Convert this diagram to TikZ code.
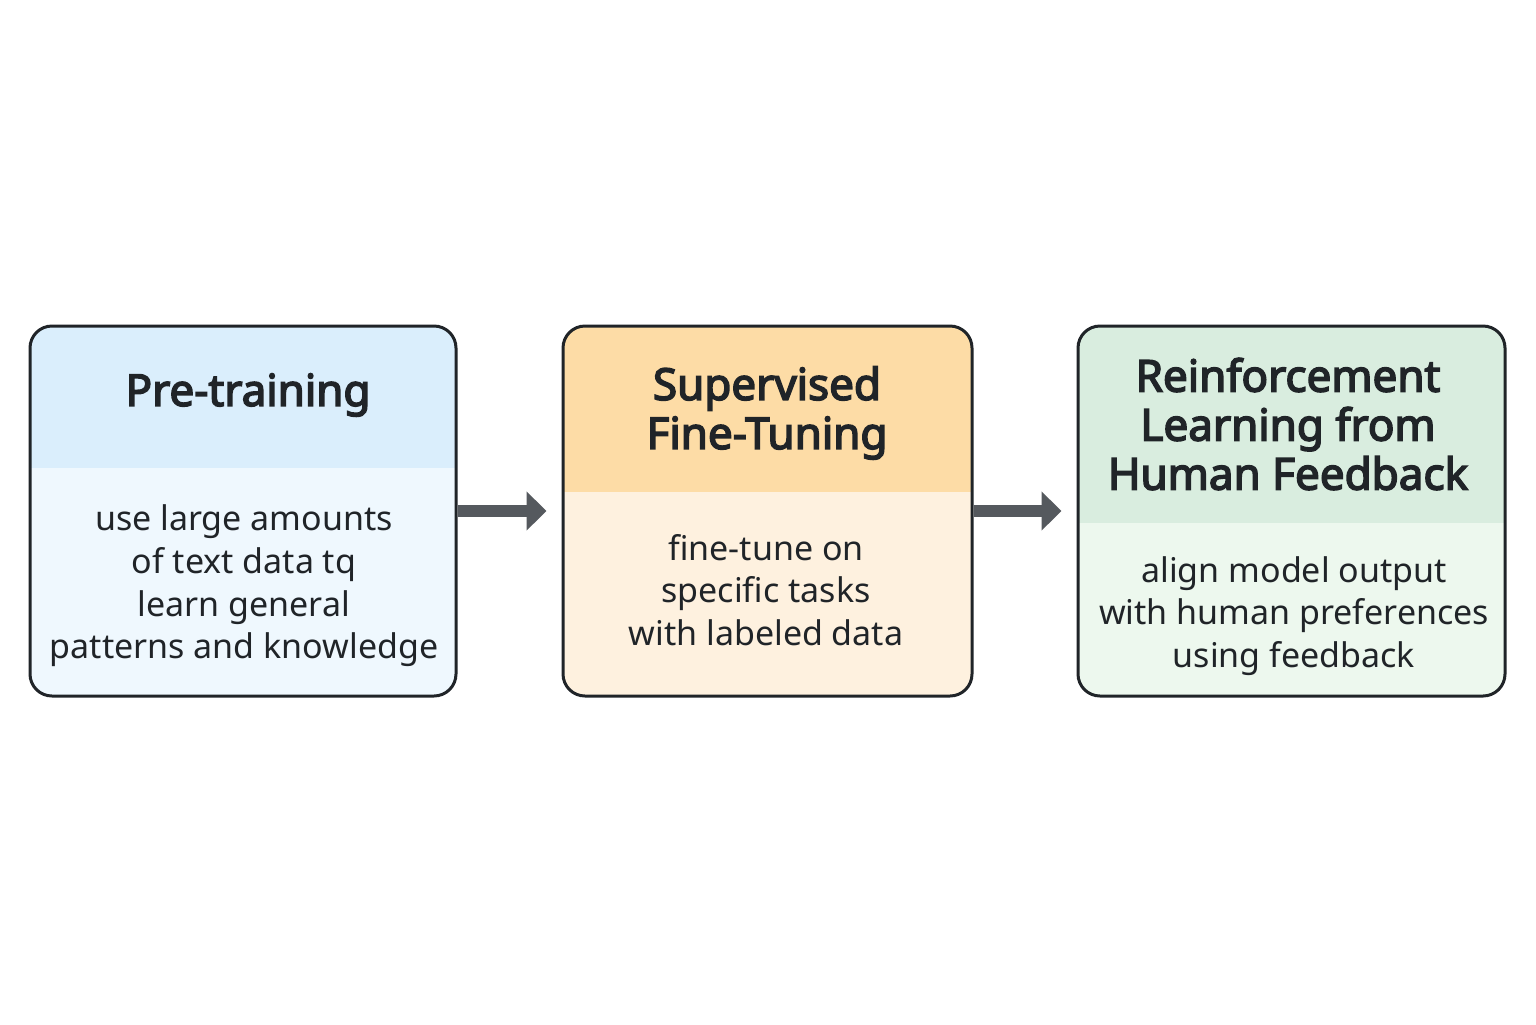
\documentclass[tikz,border=0pt]{standalone}
\usepackage{fontspec}
\setmainfont{Noto Sans}[BoldFont={Noto Sans}, BoldFeatures={FakeBold=3.5}]
\usetikzlibrary{arrows.meta}
\definecolor{hA}{HTML}{DAEEFC}
\definecolor{bA}{HTML}{EFF8FE}
\definecolor{hB}{HTML}{FDDCA6}
\definecolor{bB}{HTML}{FEF1DF}
\definecolor{hC}{HTML}{D9EDDF}
\definecolor{bC}{HTML}{EDF8EE}
\definecolor{ink}{HTML}{202428}
\definecolor{arrowgray}{HTML}{55595E}
\begin{document}
\begin{tikzpicture}[x=0.5pt,y=-0.5pt,
  stagebox/.style={draw=ink, line width=1.5pt, rounded corners=11pt, minimum width=#1, minimum height=185pt, inner sep=0pt},
  title/.style={align=center, text=ink, font=\fontsize{22}{24.5}\selectfont\bfseries},
  body/.style={align=center, text=ink, font=\fontsize{17}{21.3}\selectfont},
  flow/.style={draw=arrowgray, line width=6pt, -{Triangle[length=10pt,width=19pt]}, shorten >=7.5pt}]
\fill[white] (0,0) rectangle (1536,1024);
\useasboundingbox (0,0) rectangle (1536,1024);
% fills
\begin{scope}
\clip[rounded corners=11pt] (30,326) rectangle (456,696);
\fill[bA] (30,326) rectangle (456,696);
\fill[hA] (30,326) rectangle (456,468);
\end{scope}
\begin{scope}
\clip[rounded corners=11pt] (563,326) rectangle (972,696);
\fill[bB] (563,326) rectangle (972,696);
\fill[hB] (563,326) rectangle (972,492);
\end{scope}
\begin{scope}
\clip[rounded corners=11pt] (1078,326) rectangle (1505,696);
\fill[bC] (1078,326) rectangle (1505,696);
\fill[hC] (1078,326) rectangle (1505,523);
\end{scope}
% boxes
\node[stagebox=213pt] (b1) at (243,511) {};
\node[stagebox=204.5pt] (b2) at (767.5,511) {};
\node[stagebox=213.5pt] (b3) at (1291.5,511) {};
% titles
\node[title] (t1) at (248,395) {Pre-training};
\node[title] (t2) at (767,413) {Supervised\\Fine-Tuning};
\node[title] (t3) at (1288,424) {Reinforcement\\Learning from\\Human Feedback};
% bodies
\node[body] (d1) at (244,586) {use large amounts\\of text data tq\\learn general\\patterns and knowledge};
\node[body] (d2) at (766,590) {fine-tune on\\specific tasks\\with labeled data};
\node[body] (d3) at (1294,616) {align model output\\with human preferences\\using feedback};
% arrows
\draw[flow] (b1.east) -- (b2.west);
\draw[flow] (b2.east) -- (b3.west);
\end{tikzpicture}
\end{document}
